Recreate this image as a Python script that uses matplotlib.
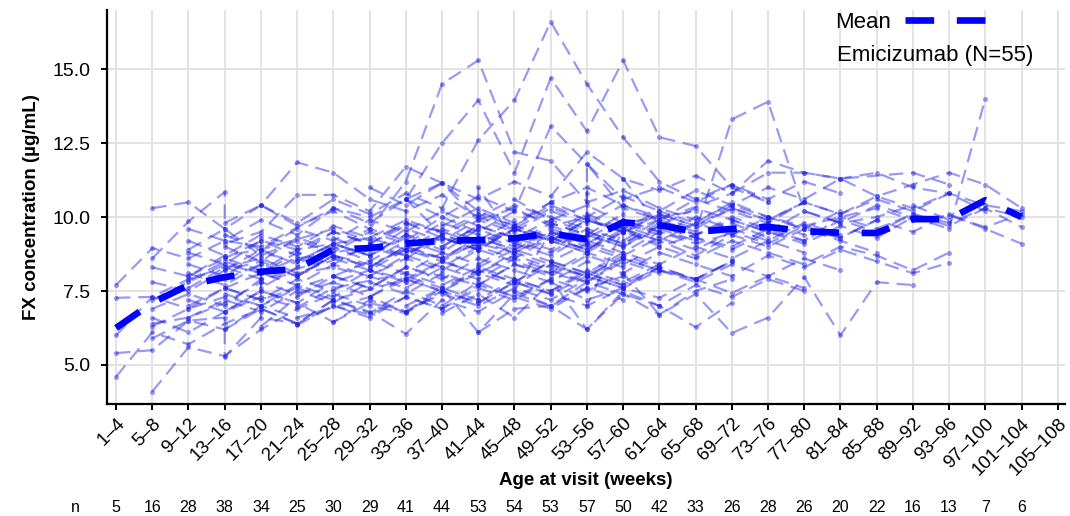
import matplotlib
matplotlib.use("Agg")
import matplotlib.pyplot as plt
from matplotlib.lines import Line2D
import matplotlib.transforms as mtransforms

plt.rcParams['font.family'] = ['Liberation Sans', 'DejaVu Sans']

# ---------------- data ----------------
age_bins = ["1–4", "5–8", "9–12", "13–16", "17–20", "21–24", "25–28", "29–32",
            "33–36", "37–40", "41–44", "45–48", "49–52", "53–56", "57–60",
            "61–64", "65–68", "69–72", "73–76", "77–80", "81–84", "85–88",
            "89–92", "93–96", "97–100", "101–104", "105–108"]

n_per_bin = [5, 16, 28, 38, 34, 25, 30, 29, 41, 44, 53, 54, 53, 57, 50, 42, 33,
             26, 28, 26, 20, 22, 16, 13, 7, 6]

mean_fx = [6.25, 7.1, 7.7, 7.97, 8.15, 8.25, 8.9, 8.95, 9.1, 9.2, 9.22, 9.28,
           9.45, 9.25, 9.82, 9.73, 9.5, 9.6, 9.67, 9.52, 9.47, 9.46, 9.93, 9.93,
           10.57, 10.0]

# first age bin (index) of each patient
patient_start = [0, 0, 0, 0, 0,
                 1, 1, 1, 1, 1, 1, 1, 1, 1, 1, 1,
                 2, 2, 2, 2, 2, 2, 2, 2, 2, 2, 2, 2,
                 3, 3, 3, 3, 3, 3, 3, 3, 3, 3,
                 4, 4, 4,
                 5, 5,
                 6, 6, 6,
                 7, 7,
                 8, 8, 8,
                 9, 9,
                 10, 10]

# FX values per consecutive bin (None = no visit, list = several visits in a bin)
patient_values = [
    [7.7, 8.95, 8.6, 9.2, 9.0, None, 10.3, 9.8, 10.6, 11.15, 10.2, 9.7, 10.5, 11.0, 10.4, 9.9, None, 10.8, 11.9, 11.5, 11.3, None, 11.5, 11.1],
    [7.27, 7.3, 7.9, 8.3, 8.6, 8.1, None, 9.0, 8.7, 9.4, 9.0, 9.6, 9.2, 8.8, 9.9, 9.5, 9.1, None, 9.8, 9.4],
    [6.0, 7.3, 6.9, 7.6, 7.2, None, 8.0, 7.6, 8.3, 8.0, 7.7, 8.4, 8.1, 7.8, 8.6, 8.2, 7.9],
    [5.4, 5.5, 6.5, 6.2, 7.0, 6.6, None, 7.3, 6.8, 7.4, 7.0, 7.6, 7.2, 7.9],
    [4.6, 6.1, 5.7, 6.4, 6.9, 6.4, 7.2, 6.8, 6.05, 7.2, 6.8, 7.5, 7.0, 7.6, 8.0],
    [10.3, 10.5, 9.6, 10.4, 11.85, 11.5, 10.6, 10.2, 10.75, 10.0, 10.6, 9.9, 10.4, 9.8, None, 10.2],
    [8.6, 9.85, [10.85, 9.1], 9.5, 10.75, 10.75, 10.2, 11.7, 11.15, 9.9, 10.3, 9.7, 10.0, 9.5],
    [8.3, 8.0, 8.7, 8.9, None, 9.6, 9.2, 9.8, 9.5, 9.1, 9.7, 9.3, 10.1, 9.6, 9.0, 9.4, 9.9, 9.5, 9.2, 10.0, 9.6, 10.1, 9.8, 10.3, 9.66],
    [6.4, 6.6, 7.1, 7.8, 7.4, None, 8.2, 7.9, 8.5, 8.1, 8.7, 8.3, 8.0, 8.6, 8.2, 7.9, 8.5],
    [4.1, 5.6, 5.3, 6.2, 6.9, 7.4, 7.0, 6.75, 7.5, 7.1, 7.8, 7.4, 7.0, 7.6],
    [7.8, 7.5, 8.2, 8.5, 8.0, 8.7, 8.4, 8.9, 8.6, 9.1, 8.8, 9.3, 8.9, 9.5, 9.1],
    [6.9, 7.4, 7.0, 7.9, None, 8.3, 8.0, 8.6, 8.2, 8.9, 8.5, 8.1, 8.8, 8.4, 9.0, 8.6, 9.2, 8.8, 8.4, 9.0, 8.7, 8.2, 8.8],
    [6.6, 6.1, 6.8, 7.3, 6.95, 7.6, None, 8.1, 7.7, 8.3, 7.9, 7.5, 8.2, 7.8, 8.4],
    [7.2, 7.8, 8.4, 8.1, 8.6, None, 9.0, 8.6, 9.3, 8.9, 9.6, 9.2, 8.8, 9.5, 9.9, 9.4, 9.8, 9.3],
    [5.9, 6.5, [6.6, 5.27], 6.6, 6.4, 7.0, 6.7, 7.3, 6.9, 7.7, 7.3, 6.9, 7.6, 7.2],
    [6.3, 6.9, 7.3, 7.0, 7.6, 7.2, None, 7.9, 7.5, 8.1, 7.7, 8.4, 8.0, 7.6, 8.3, 7.9, 8.5],
    [9.2, 8.7, 9.4, 9.0, 9.7, 9.3, 9.9, 9.5, 10.1, 9.7, 10.4, 9.9, 9.6, 10.2, 9.8, 10.5, 10.0, 9.7, None, 10.3, 9.9, 10.05, 9.66, 10.1],
    [8.9, 9.6, 8.7, 9.2, 8.8, 9.5, 9.1, 9.8, 9.4, 9.0, 9.7, 9.3, 9.9, 9.5, 9.2],
    [8.4, 8.0, 8.8, 8.5, 9.1, 8.7, 9.3, 8.9, [9.6, 7.2, 11.0], 9.2, 8.8, 9.5, 9.1, 9.7, 9.3, 9.0, 9.6],
    [7.6, 8.3, 7.9, None, 8.6, 8.2, 8.9, 8.5, 9.2, 8.8, 9.4, 9.0, 8.6],
    [7.2, 6.8, 7.5, 7.1, 7.8, 7.3, 8.0, 7.6, 8.2, 7.8, 8.5, 8.1, 7.7, 8.3],
    [8.0, 8.6, 8.2, 8.9, None, 9.3, 8.9, 9.6, 9.2, [9.9, 7.5], 9.5, 9.1, 9.8, 9.4, 10.0, 9.6, 9.2, 9.8, 9.4],
    [8.8, 8.4, 9.2, 8.7, 9.5, 9.1, 9.8, 9.3, 8.9, 9.6, 9.2, 9.9, 9.5],
    [7.0, 7.6, 7.2, 7.9, 7.5, 8.2, 7.8, 8.5, 8.1, 8.8, 8.4, 8.0, 8.7, 8.3],
    [9.6, 9.2, 9.9, 9.4, 10.3, 10.0, 10.6, 12.5, 13.95, 11.5, 14.7, 12.9, 15.3, 12.7, 12.4, 11.0, 10.5],
    [8.1, 7.7, 8.4, 8.0, 8.7, 8.3, 9.0, 8.6, 9.3, 8.9, 9.5, 9.1, 9.7, 9.3],
    [6.6, 7.2, 6.8, 7.5, 7.1, 7.8, 7.4, 8.1, 7.7, 8.4, 8.0, 8.7, 8.3],
    [7.85, 8.5, 8.1, 8.8, 8.4, 9.1, 8.7, 9.4, 9.0, 9.7, 9.3, [8.9, 10.8, 7.0], 9.6, 9.2, 9.8, 9.4, 10.0, 9.6, 9.3, 9.9],
    [9.8, 10.4, 9.7, 10.2, 9.6, 11.2, 14.5, 15.3, 12.2, 11.9, 10.5, 10.9, 10.3, 9.9, 10.4],
    [7.4, 7.0, 7.7, 7.3, 8.0, 7.6, 8.3, 7.9, 8.6, 8.2, 7.8, 8.5, 8.1],
    [8.6, 9.2, 8.9, 9.5, 9.1, [9.7, 7.8, 10.6], 9.4, 10.0, 9.6, 10.3, 9.9, 9.5, 10.1, 9.7, 10.4, 10.0, 9.6, 10.2],
    [6.8, 7.5, 7.1, 6.45, 7.2, 6.8, 7.6, 6.1, 7.4, 7.0, 7.8, 7.4, 6.7, 7.5, 7.9],
    [9.0, 8.5, 9.3, 8.9, 9.6, 9.2, 10.0, 9.5, 10.2, 9.8, 9.4, [10.1, 8.0, 11.3], 9.7, 10.3, 9.9, 9.5, 10.2, 9.8, 10.0, 10.4, 9.9],
    [7.9, 8.4, 8.0, 8.7, 8.3, 9.0, 8.6, 9.3, 8.9, 9.6, 9.2, 8.8, 9.5],
    [8.2, [8.9, 7.6], 8.3, 9.0, 8.5, 9.2, 8.8, 9.6, 9.1, 9.8, 9.4, 9.0, 9.7, 9.3, 8.9, 9.5, 9.1, 9.7, 9.3, 10.0],
    [6.2, 6.9, 6.4, 7.2, 6.75, 7.5, 7.0, 7.8, 7.3, 7.9, 6.2, 7.5, 7.0, 6.28, 7.1],
    [9.4, 8.9, 9.6, 9.2, 9.9, 9.5, 10.2, 9.7, 10.4, 10.0, [9.6, 11.8], 10.3, 9.9, 10.6, 10.2, 9.8, 10.5],
    [7.6, 8.1, 7.7, 8.4, 8.0, 8.7, 8.3, 9.0, 8.6, 9.3, 8.9, 9.6, 9.2, 8.7, 9.4, 9.0, 9.6, 9.2, 8.8],
    [8.9, 8.4, 9.1, 8.7, 9.4, 9.0, 9.7, 9.3, 9.9, 9.5, 9.1, 9.8, 9.4, 10.0, 9.6, 9.2, 9.9, 9.5, 10.1, 9.7, 10.3, 10.0],
    [10.4, 9.8, 10.6, 10.1, 10.8, 10.3, 12.6, 13.95, 16.6, 14.5, 12.7, 11.2, 10.6, 11.1, 10.5],
    [[7.8, 9.3, 6.3], 7.3, 8.0, 7.6, 8.3, 7.9, 8.6, 8.2, 7.8, 8.5, 8.1, 8.8, 8.4, 8.0, 8.7, 8.3, 8.9, 8.5, 8.1, 8.45],
    [8.5, 9.1, 8.7, 9.4, 9.0, 9.7, 9.3, 8.9, 9.6, 9.2, 9.9, 9.5, 13.3, 13.9, 10.2, 9.8, 10.4, 10.0, 9.6, 14.0],
    [6.35, 7.0, 6.6, 7.3, 6.9, 7.6, 7.2, 7.9, 7.5, 8.1, 6.7, 7.4, 6.08, 6.6, 7.97, 6.0, 7.8, 7.7],
    [6.45, 7.1, 6.8, 7.5, 7.1, 7.8, 7.4, 8.0, 7.6, 8.2, 7.8, 8.4, 8.0, 8.6, 8.2],
    [9.3, 8.8, 9.6, 9.2, 9.9, 9.5, 10.2, 9.8, 10.4, 10.0, 9.6, 10.3, 9.9, 10.5, 10.1, 10.7, 10.3, 10.8, 10.4, 10.2],
    [8.0, 8.5, 8.1, 8.8, 8.4, 9.1, 8.7, 9.4, 9.0, 9.6, 9.2],
    [11.0, 10.4, 11.15, 10.6, 11.2, 10.7, 12.2, 11.3, 10.9, 11.4, 10.8, 11.5, 11.5, 11.3, 11.5, 11.0, 10.8],
    [7.3, 7.9, 7.5, 8.2, 7.8, 8.5, 8.1, 8.8, 8.4, 9.0, 8.6, 9.2, 8.8],
    [10.6, 10.0, 10.7, 10.2, 13.07, 11.8, 10.6, 11.0, 10.5, 11.1, 10.6, 11.2, 10.8],
    [7.0, 7.6, 7.2, 7.9, 7.5, 8.1, 7.7, 8.3, 7.9, 8.5],
    [8.8, 9.3, 8.9, 9.6, 9.2, 9.9, 9.5, 10.1, 9.7, 10.3, 9.9, 10.5, 10.1, 10.6, 10.2, 10.8, 10.2],
    [6.75, 7.4, 6.6, 7.8, 7.2, 7.6, 7.27, 7.9, 7.43, 8.0, 7.6],
    [9.7, 10.3, 9.8, 10.5, 10.0, 10.7, 10.2, 10.9, 10.4, 11.0, 10.6, 11.3, 10.7, 11.1, 11.5, 11.1, 10.3],
    [6.1, 6.9, 7.0, 6.2, 7.4, 7.0, 7.7, 7.3, 7.9, 7.5],
    [8.3, 8.9, 8.5, 9.1, 8.7, 9.3, 8.9, 9.5, 9.1, 9.7, 9.3, 9.9, 9.5, 10.1, 9.6, 9.1],
]

ytick_values = [5.0, 7.5, 10.0, 12.5, 15.0]

# ---------------- figure ----------------
W, H = 1070, 516
fig = plt.figure(figsize=(W / 100, H / 100), dpi=100)
ax = fig.add_axes([107 / W, 112 / H, 958 / W, 394 / H])

line_color = '#1f1fe6'
for start, vals in zip(patient_start, patient_values):
    xs, ys = [], []
    for i, v in enumerate(vals):
        if v is None:
            continue
        for vv in (v if isinstance(v, list) else [v]):
            xs.append(start + i)
            ys.append(vv)
    ax.plot(xs, ys, color=line_color, alpha=0.45, lw=1.6,
            linestyle=(0, (6.5, 3.5)), marker='o', ms=3.6, mew=0, zorder=2)

mean_style = dict(color='#0000ff', lw=4.8, linestyle=(0, (4.3, 3.4)),
                  dash_capstyle='butt')
ax.plot(range(len(mean_fx)), mean_fx, zorder=4, **mean_style)

ax.set_xlim(-0.25, 26.2)
ax.set_ylim(3.68, 17.0)
ax.set_xticks(range(len(age_bins)))
ax.set_xticklabels(age_bins, rotation=45, ha='right', rotation_mode='anchor',
                   fontsize=13.5)
ax.set_yticks(ytick_values)
ax.set_yticklabels([f"{v:.1f}" for v in ytick_values], fontsize=14)

ax.grid(True, color='#e3e3e3', lw=1.4, zorder=0)
ax.set_axisbelow(True)
for s in ['top', 'right']:
    ax.spines[s].set_visible(False)
for s in ['left', 'bottom']:
    ax.spines[s].set_linewidth(1.6)
    ax.spines[s].set_color('black')
ax.tick_params(axis='both', length=4, width=1.4, color='black')
ax.tick_params(axis='y', pad=8)
ax.tick_params(axis='x', pad=4)

ax.set_ylabel("FX concentration (µg/mL)", fontsize=13.5, fontweight='bold')
ax.yaxis.set_label_coords(-0.07, 0.5)
ax.set_xlabel("Age at visit (weeks)", fontsize=13.5, fontweight='bold')
ax.xaxis.set_label_coords(0.5, -0.172)

# legend
handle = Line2D([], [], **mean_style)
leg = ax.legend(handles=[handle], labels=['Mean'], loc='upper left',
                bbox_to_anchor=(835 / W, 1 - 12 / H), bbox_transform=fig.transFigure,
                frameon=False, markerfirst=False, handlelength=3.9,
                handletextpad=0.65, borderpad=0, borderaxespad=0, fontsize=16)
fig.text(837 / W, 1 - 55 / H, "Emicizumab (N=55)", ha='left', va='center',
         fontsize=16)

# n row
trans = mtransforms.blended_transform_factory(ax.transData, fig.transFigure)
fig.text(75 / W, 1 - 507 / H, "n", ha='center', va='center', fontsize=11.5)
for i, n in enumerate(n_per_bin):
    ax.text(i, 1 - 507 / H, str(n), transform=trans, ha='center', va='center',
            fontsize=11.5)

fig.savefig("out.png", dpi=100)
